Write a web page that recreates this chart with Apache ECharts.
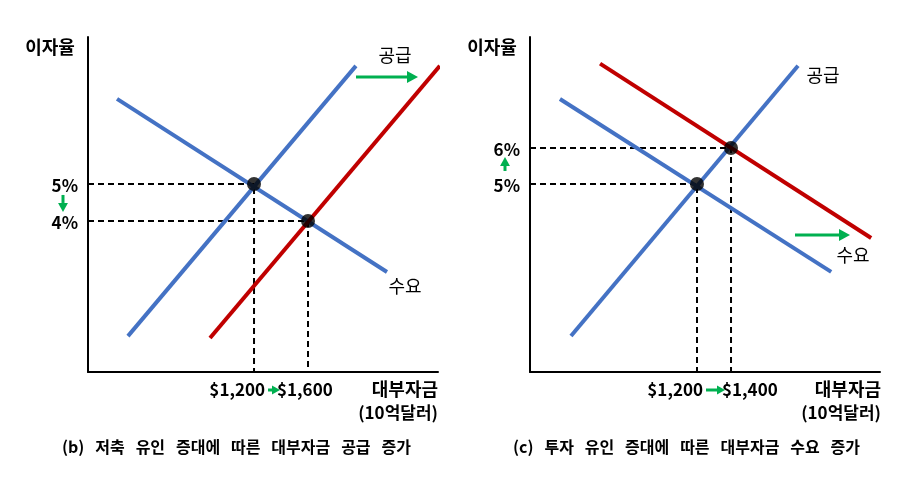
<!DOCTYPE html>
<html><head><meta charset="utf-8">
<script src="https://cdn.jsdelivr.net/npm/echarts@6/dist/echarts.min.js"></script>
<style>html,body{margin:0;background:#fff}#c{width:924px;height:482px}</style>
</head><body><div id="c"></div>
<script>
// Panel (b): supply increase
const bSupply0 = [[266, 0.89], [1955, 8.19]];
const bSupply1 = [[874, 0.84], [2577, 8.19]];
const bDemand = [[185, 7.30], [2185, 2.62]];
const bEq = [[1200, 5], [1600, 4]];
const bXTicks = ['$1,200', '$1,600'];
const bYTicks = ['5%', '4%'];
// Panel (c): demand increase
const cSupply = [[459, 0.78], [1794, 8.28]];
const cDemand0 = [[394, 7.36], [1989, 2.56]];
const cDemand1 = [[630, 8.34], [2224, 3.50]];
const cEq = [[1200, 5], [1400, 6]];
const cXTicks = ['$1,200', '$1,400'];
const cYTicks = ['5%', '6%'];

const FONT = '"Noto Sans CJK KR", "Noto Sans", sans-serif';
const BLUE = '#4472c4', RED = '#c00000', GREEN = '#00b050';
const chart = echarts.init(document.getElementById('c'));

function axisX(idx, min, max) {
  return {gridIndex: idx, type: 'value', min, max, axisLine: {show: true, onZero: false, lineStyle: {color: '#000', width: 2}},
    axisTick: {show: false}, axisLabel: {show: false}, splitLine: {show: false}};
}
function axisY(idx, min, max) {
  return {gridIndex: idx, type: 'value', min, max, axisLine: {show: true, onZero: false, lineStyle: {color: '#000', width: 2}},
    axisTick: {show: false}, axisLabel: {show: false}, splitLine: {show: false}};
}
function line(idx, data, color) {
  return {type: 'line', xAxisIndex: idx, yAxisIndex: idx, data, symbol: 'none', silent: true,
    lineStyle: {color, width: 4}, z: 3};
}
function dashes(idx, pts, ymin, xmin) {
  const s = [];
  pts.forEach(p => {
    s.push({type: 'line', xAxisIndex: idx, yAxisIndex: idx, data: [[xmin, p[1]], p, [p[0], ymin]], symbol: 'none',
      lineStyle: {color: '#000', width: 2, type: [6, 4]}, z: 2});
  });
  s.push({type: 'scatter', xAxisIndex: idx, yAxisIndex: idx, data: pts, symbolSize: 14, itemStyle: {color: '#000'}, z: 5});
  return s;
}
chart.setOption({
  animation: false,
  grid: [{left: 88, top: 37, width: 350, height: 335}, {left: 530, top: 37, width: 350, height: 335}],
  xAxis: [axisX(0, -30, 2563), axisX(1, 218, 2276)],
  yAxis: [axisY(0, -0.08, 8.97), axisY(1, -0.22, 9.08)],
  series: [
    ...dashes(0, bEq, -0.08, -30),
    line(0, bSupply0, BLUE), line(0, bDemand, BLUE), line(0, bSupply1, RED),
    ...dashes(1, cEq, -0.22, 218),
    line(1, cSupply, BLUE), line(1, cDemand0, BLUE), line(1, cDemand1, RED)
  ]
});

function px(g, p) { return chart.convertToPixel({gridIndex: g}, p); }
const G = [];
function txt(x, y, t, o) {
  G.push({type: 'text', x, y, style: Object.assign({text: t, font: 'bold 17px ' + FONT, fill: '#000', textVerticalAlign: 'middle'}, o || {})});
}
function arrow(x1, y1, x2, y2, w, head) {
  const dx = x2 - x1, dy = y2 - y1, L = Math.hypot(dx, dy), ux = dx / L, uy = dy / L;
  const bx = x2 - ux * head, by = y2 - uy * head;
  G.push({type: 'line', shape: {x1, y1, x2: bx, y2: by}, style: {stroke: GREEN, lineWidth: w}});
  G.push({type: 'polygon', shape: {points: [[x2, y2], [bx - uy * head * 0.55, by + ux * head * 0.55], [bx + uy * head * 0.55, by - ux * head * 0.55]]}, style: {fill: GREEN}});
}
[[0, bEq, bXTicks, bYTicks, 11, -31], [1, cEq, cXTicks, cYTicks, 6, -9]].forEach(([g, eq, xt, yt, o1, o2]) => {
  const a = px(g, eq[0]), b = px(g, eq[1]);
  txt(a[0] + o1, 390, xt[0], {textAlign: 'right'});
  txt(b[0] + o2, 390, xt[1], {textAlign: 'left'});
  arrow(a[0] + o1 + 3, 390, b[0] + o2 + 3, 390, 3, 8);
  const ylx = g === 0 ? 78 : 520;
  txt(ylx, a[1] + 2, yt[0], {textAlign: 'right'});
  txt(ylx, b[1] + 2, yt[1], {textAlign: 'right'});
  const axx = ylx - 15;
  if (g === 0) arrow(axx, a[1] + 11, axx, b[1] - 9, 3, 9);
  else arrow(axx, a[1] - 13, axx, b[1] + 9, 3, 9);
});
// axis titles
txt(50, 47, '이자율', {textAlign: 'center', font: 'bold 18px ' + FONT});
txt(492, 47, '이자율', {textAlign: 'center', font: 'bold 18px ' + FONT});
txt(438, 389, '대부자금', {textAlign: 'right', font: 'bold 18px ' + FONT});
txt(438, 413, '(10억달러)', {textAlign: 'right', font: 'bold 17px ' + FONT});
txt(881, 389, '대부자금', {textAlign: 'right', font: 'bold 18px ' + FONT});
txt(881, 413, '(10억달러)', {textAlign: 'right', font: 'bold 17px ' + FONT});
// curve labels
txt(395, 55, '공급', {textAlign: 'center', font: '18px ' + FONT});
txt(405, 286, '수요', {textAlign: 'center', font: '18px ' + FONT});
txt(823, 75, '공급', {textAlign: 'center', font: '18px ' + FONT});
txt(853, 255, '수요', {textAlign: 'center', font: '18px ' + FONT});
arrow(356, 77, 418, 77, 3, 11);
arrow(795, 235, 850, 235, 3, 11);
// captions
txt(62, 447, '(b)   저축   유인   증대에   따른   대부자금   공급   증가', {font: 'bold 16px ' + FONT});
txt(513, 447, '(c)   투자   유인   증대에   따른   대부자금   수요   증가', {font: 'bold 16px ' + FONT});
chart.setOption({graphic: {elements: G}});
</script></body></html>
